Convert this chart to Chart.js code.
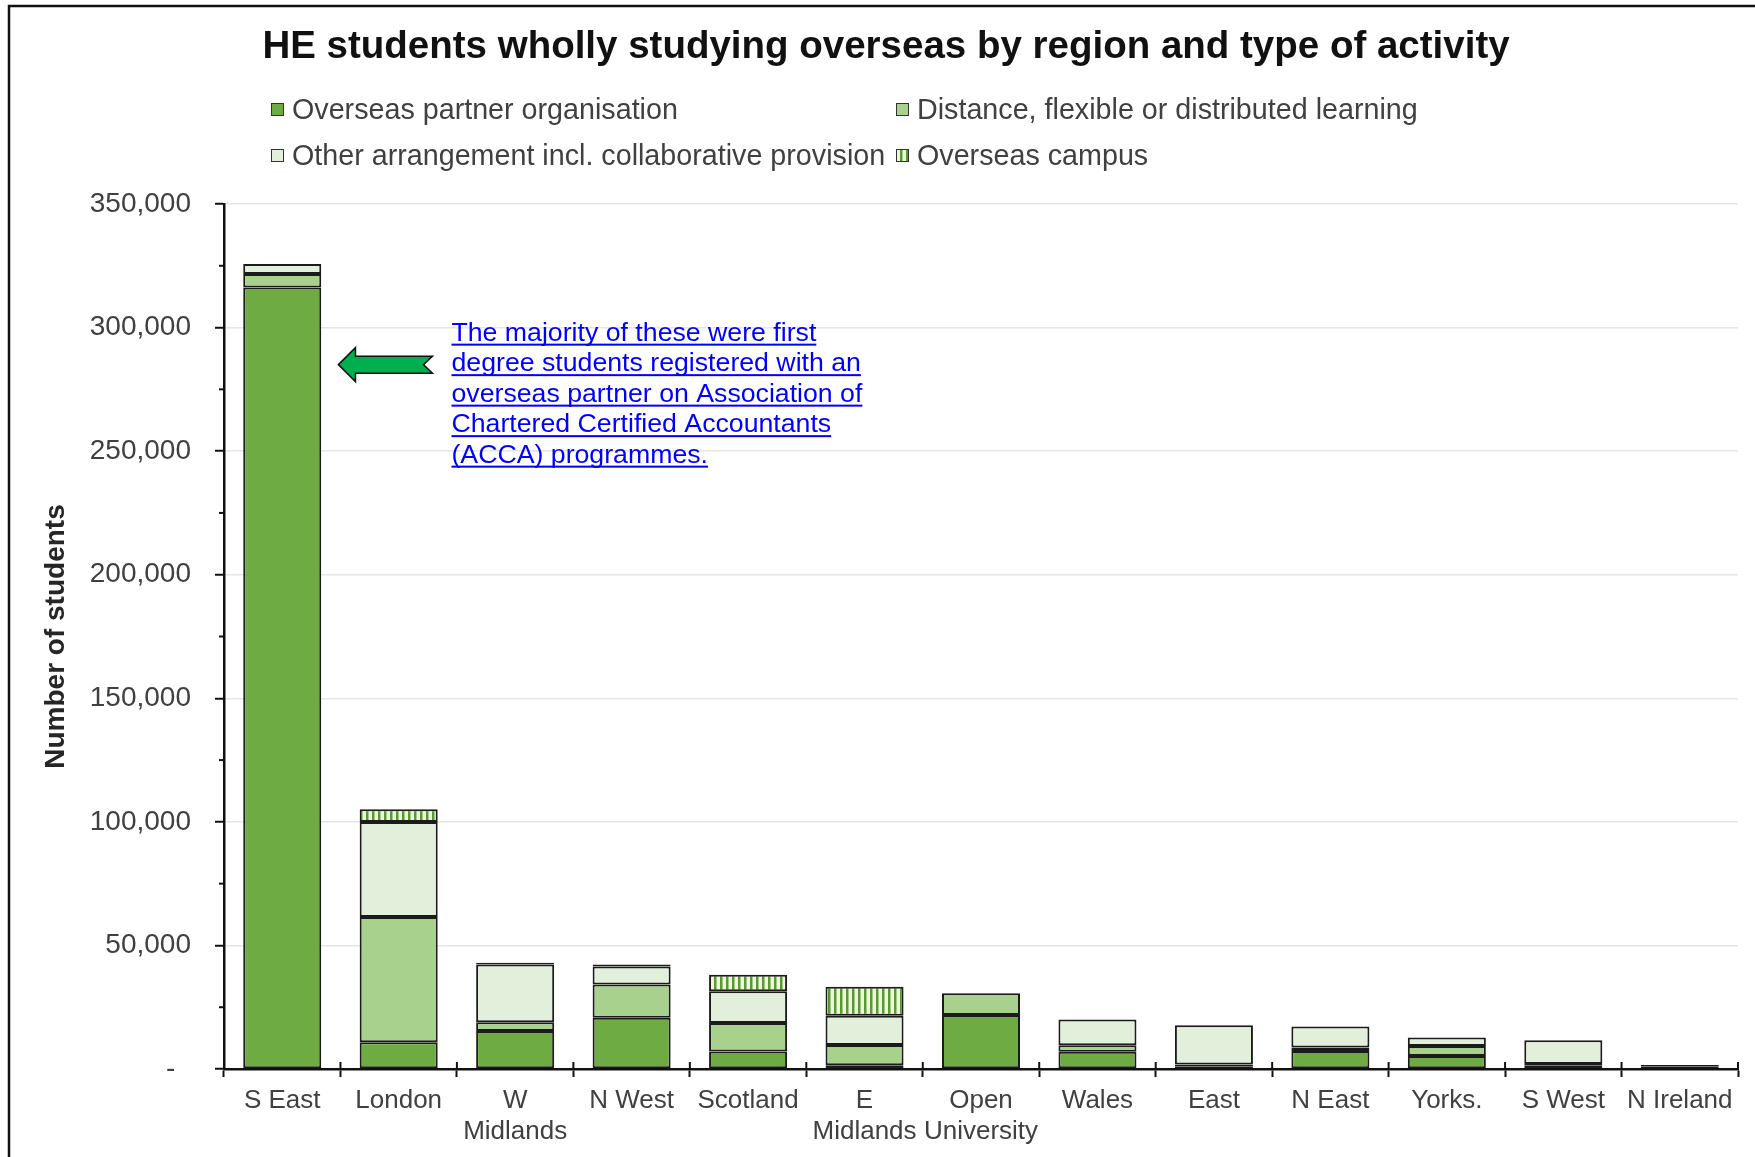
<!DOCTYPE html>
<html>
<head>
<meta charset="utf-8">
<script src="https://cdn.jsdelivr.net/npm/chart.js@4.4.1/dist/chart.umd.min.js"></script>
<style>
  html, body { margin: 0; padding: 0; background: #fff; }
  #wrap { position: relative; width: 1755px; height: 1157px; }
</style>
</head>
<body>
<div id="wrap"><canvas id="chart" width="1755" height="1157"></canvas></div>
<script>
const chartTitle = 'HE students wholly studying overseas by region and type of activity';
const categories = ['S East', 'London', ['W', 'Midlands'], 'N West', 'Scotland', ['E', 'Midlands'],
    ['Open', 'University'], 'Wales', 'East', 'N East', 'Yorks.', 'S West', 'N Ireland'];
const seriesLabels = ['Overseas partner organisation', 'Distance, flexible or distributed learning',
    'Other arrangement incl. collaborative provision', 'Overseas campus'];
const partnerValues  = [316200, 10800, 15400, 20700, 7100, 1500, 21800, 7000, 900, 7300, 5300, 1500, 800];
const distanceValues = [5500, 50750, 3500, 13500, 11500, 8250, 8900, 2600, 900, 1350, 4050, 500, 300];
const otherValues    = [4000, 38350, 23400, 7300, 12900, 11750, 0, 10400, 15900, 8550, 3350, 9650, 500];
const campusValues   = [0, 5250, 700, 800, 6600, 11800, 0, 0, 0, 0, 0, 0, 0];
const yTickLabels = ['-', '50,000', '100,000', '150,000', '200,000', '250,000', '300,000', '350,000'];
const noteLines = ['The majority of these were first', 'degree students registered with an',
    'overseas partner on Association of', 'Chartered Certified Accountants', '(ACCA) programmes.'];
const noteValue = 285000;

const FONT = "'Liberation Sans', Arial, sans-serif";

function stripePattern() {
    const c = document.createElement('canvas');
    c.width = 6;
    c.height = 6;
    const g = c.getContext('2d');
    g.fillStyle = '#edf6da';
    g.fillRect(0, 0, 6, 6);
    g.fillStyle = '#5a9834';
    g.fillRect(0, 0, 2.5, 6);
    return g.createPattern(c, 'repeat');
}

const fills = ['#6eab43', '#a9d18e', '#e2efda', stripePattern()];

const decorPlugin = {
    id: 'decor',
    beforeDraw(chart) {
        const ctx = chart.ctx;
        ctx.save();
        ctx.fillStyle = '#fff';
        ctx.fillRect(0, 0, chart.width, chart.height);
        ctx.strokeStyle = '#111';
        ctx.lineWidth = 2.5;
        ctx.beginPath();
        ctx.moveTo(9, chart.height);
        ctx.lineTo(9, 6);
        ctx.lineTo(chart.width, 6);
        ctx.stroke();
        ctx.restore();
    },
    afterDraw(chart) {
        const ctx = chart.ctx;
        const xs = chart.scales.x;
        const ys = chart.scales.y;
        const area = chart.chartArea;
        ctx.save();

        // title
        ctx.font = `bold 38.5px ${FONT}`;
        ctx.fillStyle = '#111';
        ctx.textAlign = 'center';
        ctx.textBaseline = 'middle';
        ctx.fillText(chartTitle, 886, 47);
        ctx.textAlign = 'left';

        // legend, two columns
        const cols = [271, 896];
        const rows = [110, 156];
        ctx.font = `28.7px ${FONT}`;
        chart.data.datasets.forEach((ds, i) => {
            const x = cols[i % 2];
            const y = rows[Math.floor(i / 2)];
            ctx.fillStyle = ds.backgroundColor;
            ctx.fillRect(x, y - 7, 13, 13);
            ctx.strokeStyle = '#333';
            ctx.lineWidth = 1;
            ctx.strokeRect(x + 0.5, y - 6.5, 12, 12);
            ctx.fillStyle = '#404040';
            ctx.fillText(ds.label, x + 21, y + 1);
        });

        // minor ticks on y axis
        ctx.strokeStyle = '#111';
        ctx.lineWidth = 2;
        for (let v = 25000; v < ys.max; v += 50000) {
            const y = ys.getPixelForValue(v);
            ctx.beginPath();
            ctx.moveTo(area.left - 5, y);
            ctx.lineTo(area.left, y);
            ctx.stroke();
        }

        // category tick marks crossing the x axis
        const half = (xs.getPixelForValue(1) - xs.getPixelForValue(0)) / 2;
        for (let i = 1; i <= categories.length; i++) {
            const x = xs.getPixelForValue(i - 1) + half;
            ctx.beginPath();
            ctx.moveTo(x, area.bottom - 7);
            ctx.lineTo(x, area.bottom);
            ctx.stroke();
        }

        // arrow pointing at S East
        const ay = ys.getPixelForValue(noteValue);
        const ax = xs.getPixelForValue(0) + half - 2;
        ctx.beginPath();
        ctx.moveTo(ax, ay);
        ctx.lineTo(ax + 17, ay - 17);
        ctx.lineTo(ax + 17, ay - 8.5);
        ctx.lineTo(ax + 94, ay - 8.5);
        ctx.lineTo(ax + 85, ay);
        ctx.lineTo(ax + 94, ay + 8.5);
        ctx.lineTo(ax + 17, ay + 8.5);
        ctx.lineTo(ax + 17, ay + 17);
        ctx.closePath();
        ctx.fillStyle = '#00b050';
        ctx.fill();
        ctx.strokeStyle = '#111';
        ctx.lineWidth = 1.5;
        ctx.stroke();

        // note text, blue and underlined
        ctx.font = `26.7px ${FONT}`;
        ctx.textBaseline = 'alphabetic';
        ctx.fillStyle = '#0000ff';
        const tx = ax + 113;
        let by = ay - 24;
        noteLines.forEach(line => {
            ctx.fillText(line, tx, by);
            const w = ctx.measureText(line).width;
            ctx.fillRect(tx, by + 3, w, 2);
            by += 30.5;
        });
        ctx.restore();
    }
};

new Chart(document.getElementById('chart'), {
    type: 'bar',
    data: {
        labels: categories,
        datasets: [
            { label: seriesLabels[0], data: partnerValues, backgroundColor: fills[0] },
            { label: seriesLabels[1], data: distanceValues, backgroundColor: fills[1] },
            { label: seriesLabels[2], data: otherValues, backgroundColor: fills[2] },
            { label: seriesLabels[3], data: campusValues, backgroundColor: fills[3] }
        ]
    },
    options: {
        responsive: false,
        animation: false,
        layout: { padding: { left: 18, right: 17, top: 204, bottom: 0 } },
        datasets: {
            bar: {
                borderColor: '#1b1b1b',
                borderWidth: 2,
                borderSkipped: false,
                barPercentage: 1,
                categoryPercentage: 0.67
            }
        },
        plugins: {
            legend: { display: false },
            tooltip: { enabled: false },
            title: { display: false }
        },
        scales: {
            x: {
                stacked: true,
                afterFit: scale => { scale.height = 88; },
                grid: {
                    offset: true,
                    drawOnChartArea: false,
                    tickLength: 8,
                    tickColor: '#111',
                    tickWidth: 2
                },
                border: { display: true, color: '#111', width: 2.5 },
                ticks: {
                    color: '#404040',
                    padding: 8,
                    maxRotation: 0,
                    autoSkip: false,
                    font: { family: FONT, size: 26 }
                }
            },
            y: {
                stacked: true,
                min: 0,
                max: 350000,
                afterFit: scale => { scale.width = 206; },
                grid: {
                    color: '#e6e6e6',
                    lineWidth: 1.5,
                    tickLength: 9,
                    tickColor: '#111',
                    tickWidth: 2
                },
                border: { display: true, color: '#111', width: 2.5 },
                ticks: {
                    stepSize: 50000,
                    color: '#404040',
                    padding: 24,
                    font: { family: FONT, size: 28 },
                    callback: (value, index) => index === 0 ? yTickLabels[0] + '  ' : yTickLabels[index]
                },
                title: {
                    display: true,
                    text: 'Number of students',
                    color: '#262626',
                    font: { family: FONT, size: 28, weight: 'bold' },
                    padding: { top: 21, bottom: 0 }
                }
            }
        }
    },
    plugins: [decorPlugin]
});
</script>
</body>
</html>
